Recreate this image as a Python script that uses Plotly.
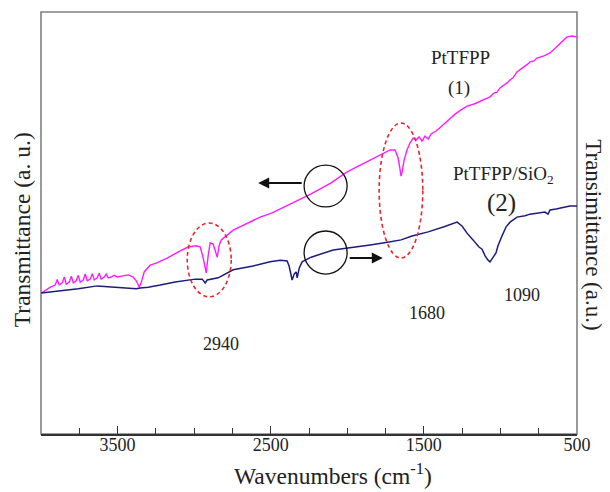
import plotly.graph_objects as go

# ---- data (wavenumber in cm^-1, transmittance in arbitrary units) ----
wn_pttfpp = [3998, 3939, 3907, 3894, 3881, 3861, 3848, 3835, 3815, 3802, 3789, 3770, 3757, 3744,
             3724, 3711, 3698, 3678, 3665, 3652, 3633, 3620, 3607, 3587, 3574, 3561, 3541, 3522,
             3502, 3469, 3430, 3398, 3378, 3358, 3345, 3326, 3287, 3248, 3176, 3091, 3039, 2987,
             2960, 2941, 2921, 2908, 2895, 2876, 2862, 2849, 2836, 2823, 2745, 2569, 2491, 2308,
             2236, 2106, 2001, 1851, 1786, 1720, 1688, 1668, 1655, 1649, 1642, 1629, 1610, 1590,
             1570, 1551, 1531, 1512, 1492, 1472, 1453, 1420, 1388, 1348, 1296, 1257, 1218, 1172,
             1133, 1094, 1068, 1042, 1022, 1003, 983, 957, 937, 918, 892, 872, 846, 820, 807, 781,
             761, 716, 676, 656, 630, 611, 585, 565, 532, 500]
tr_pttfpp = [33.4, 34.8, 35.3, 36.6, 35.3, 35.8, 37.2, 35.5, 36.0, 37.4, 35.8, 36.3, 37.6, 36.0,
             36.5, 37.9, 36.3, 36.7, 38.0, 36.5, 37.0, 38.1, 36.7, 37.2, 37.9, 37.0, 37.2, 37.6,
             37.2, 37.4, 37.7, 37.2, 36.3, 34.8, 36.0, 38.4, 40.0, 40.5, 41.7, 43.4, 44.3, 44.6,
             44.3, 41.7, 38.2, 42.4, 45.3, 45.0, 43.6, 41.9, 44.8, 46.0, 48.3, 51.4, 52.4, 55.5,
             56.9, 59.5, 62.1, 64.9, 66.1, 67.3, 67.3, 65.4, 62.6, 61.1, 62.1, 64.9, 67.3, 69.0,
             70.1, 69.7, 70.4, 69.4, 70.6, 69.9, 71.1, 71.8, 72.8, 74.2, 75.8, 76.8, 77.7, 78.2,
             78.9, 79.6, 79.9, 80.8, 81.0, 82.0, 82.5, 83.2, 83.9, 84.4, 85.8, 86.3, 87.0, 87.7,
             88.2, 88.4, 89.1, 89.6, 90.3, 91.0, 91.9, 92.7, 93.4, 94.1, 94.3, 94.1]

wn_sio2 = [3998, 3874, 3757, 3633, 3502, 3430, 3378, 3352, 3300, 3221, 3124, 2993, 2947, 2928,
           2915, 2843, 2745, 2615, 2504, 2438, 2393, 2380, 2367, 2360, 2347, 2334, 2327, 2314,
           2295, 2236, 2092, 1981, 1851, 1727, 1649, 1577, 1472, 1368, 1316, 1283, 1251, 1218,
           1179, 1140, 1120, 1100, 1081, 1068, 1055, 1042, 1029, 1016, 1003, 990, 963, 937, 892,
           839, 807, 761, 709, 689, 676, 637, 585, 546, 500]
tr_sio2 = [33.4, 33.9, 34.4, 35.1, 34.8, 34.6, 34.4, 34.6, 34.8, 35.3, 36.0, 36.7, 36.7, 35.8,
           36.5, 37.0, 38.9, 39.8, 40.8, 41.2, 41.0, 39.8, 37.2, 36.5, 37.9, 38.4, 37.0, 39.3,
           40.8, 41.9, 43.6, 44.1, 44.8, 45.5, 46.0, 46.9, 47.9, 49.1, 49.8, 50.2, 49.3, 47.6,
           46.0, 44.3, 43.8, 42.2, 41.2, 40.8, 41.5, 42.2, 42.9, 44.6, 46.0, 46.9, 49.1, 50.2,
           51.4, 51.7, 52.1, 52.4, 52.6, 52.1, 53.1, 53.3, 53.8, 54.0, 54.0]

tick_vals = [3500, 2500, 1500, 500]
tick_text = ["3500", "2500", "1500", "500"]

peak_labels = ["2940", "1680", "1090"]
peak_label_x = [2823, 1479, 859]
peak_label_y = [21.3, 28.7, 32.9]

FONT = "Liberation Serif"
MAGENTA = "#ff1cff"
NAVY = "#1c1c7c"
RED = "#e8262e"

fig = go.Figure()
fig.add_trace(go.Scatter(x=wn_pttfpp, y=tr_pttfpp, mode="lines",
                         line=dict(color=MAGENTA, width=1.4), name="PtTFPP"))
fig.add_trace(go.Scatter(x=wn_sio2, y=tr_sio2, mode="lines",
                         line=dict(color=NAVY, width=1.5), name="PtTFPP/SiO2"))

fig.update_layout(
    width=610, height=492,
    margin=dict(l=41, r=33, t=12, b=58),
    paper_bgcolor="white", plot_bgcolor="white",
    showlegend=False,
    font=dict(family=FONT, color="#222"),
    xaxis=dict(range=[4000, 500], tickvals=tick_vals, ticktext=tick_text,
               ticks="inside", ticklen=8, tickwidth=1.3, tickcolor="#333",
               ticklabelstandoff=-6,
               minor=dict(dtick=250, tick0=500, ticks="inside", ticklen=6, tickwidth=1.3, tickcolor="#333"),
               showgrid=False, zeroline=False, showline=True, linecolor="#333", linewidth=1.6,
               tickfont=dict(family=FONT, size=18, color="#222")),
    yaxis=dict(range=[0, 100], showticklabels=False, ticks="", showgrid=False,
               zeroline=False, showline=False),
)

# plot frame (top, left, right)
fig.add_shape(type="rect", xref="x domain", yref="y domain", x0=0, x1=1, y0=0, y1=1,
              line=dict(color="#808080", width=1.6), layer="below")

# circles and arrows
fig.add_shape(type="circle", xref="x", yref="y", x0=2282, x1=2001, y0=53.8, y1=63.7,
              line=dict(color="#111", width=1.3))
fig.add_shape(type="circle", xref="x", yref="y", x0=2282, x1=2001, y0=37.9, y1=48.1,
              line=dict(color="#111", width=1.3))
fig.add_annotation(x=2582, y=59.5, ax=2288, ay=59.5, xref="x", yref="y", axref="x", ayref="y",
                   text="", showarrow=True, arrowhead=2, arrowsize=1.1, arrowwidth=2, arrowcolor="#111")
fig.add_annotation(x=1768, y=41.7, ax=1994, ay=41.7, xref="x", yref="y", axref="x", ayref="y",
                   text="", showarrow=True, arrowhead=2, arrowsize=1.1, arrowwidth=2, arrowcolor="#111")

# red dashed ellipses
fig.add_shape(type="circle", xref="x", yref="y", x0=3045, x1=2758, y0=32.5, y1=50.0,
              line=dict(color=RED, width=1.6, dash="4px,3px"))
fig.add_shape(type="circle", xref="x", yref="y", x0=1792, x1=1507, y0=41.7, y1=73.7,
              line=dict(color=RED, width=1.6, dash="4px,3px"))

# text labels
def label(txt, x, y, size):
    fig.add_annotation(x=x, y=y, xref="x", yref="y", text=txt, showarrow=False,
                       xanchor="center", yanchor="middle",
                       font=dict(family=FONT, size=size, color="#222"))

label("PtTFPP", 1264, 89.3, 19)
label("(1)", 1270, 82.0, 19)
label("PtTFPP/SiO<sub>2</sub>", 983, 61.4, 19)
label("(2)", 990, 54.7, 25)
for t, x, y in zip(peak_labels, peak_label_x, peak_label_y):
    label(t, x, y, 18)

# axis titles
fig.add_annotation(xref="paper", yref="paper", x=0.545, y=-0.135, xanchor="center", yanchor="bottom",
                   text="Wavenumbers (cm<sup>-1</sup>)",
                   showarrow=False, font=dict(family=FONT, size=23.5, color="#222"))
fig.add_annotation(xref="paper", yref="paper", x=-0.0354, y=0.483, xanchor="center", yanchor="middle",
                   text="Transmittance (a. u.)",
                   textangle=-90, showarrow=False, font=dict(family=FONT, size=23.5, color="#222"))
fig.add_annotation(xref="paper", yref="paper", x=1.058, y=0.472, xanchor="right", yanchor="middle",
                   text="Transimittance (a.u.)",
                   textangle=90, showarrow=False, font=dict(family=FONT, size=23, color="#222"))

fig.write_html("out.html", config={"displayModeBar": False},
               post_script="document.body.style.margin='0';document.body.style.padding='0';")
